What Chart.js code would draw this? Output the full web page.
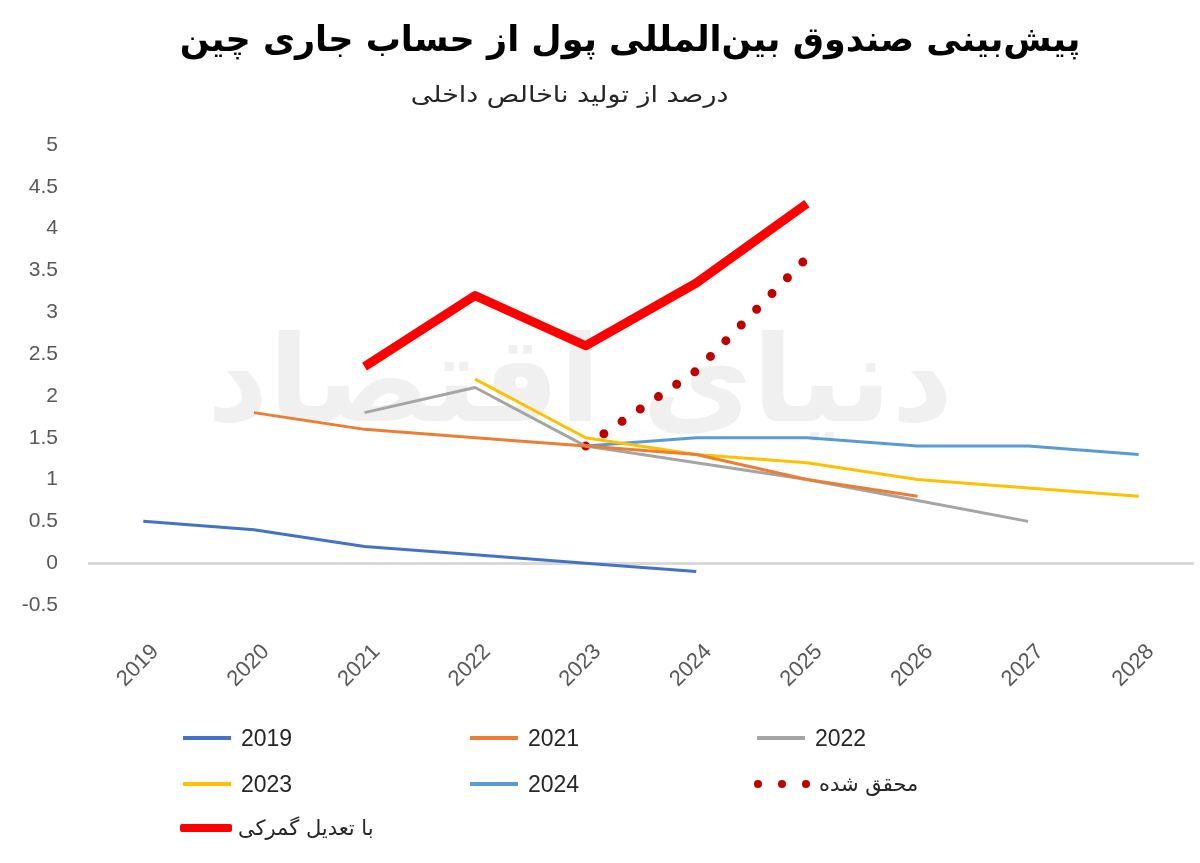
<!DOCTYPE html>
<html lang="fa">
<head>
<meta charset="utf-8">
<script src="https://cdn.jsdelivr.net/npm/chart.js@4.4.1/dist/chart.umd.min.js"></script>
<style>
  html, body { margin: 0; padding: 0; background: #fff; }
  #wrap { position: relative; width: 1200px; height: 863px; overflow: hidden; }
  #chart { position: absolute; left: 0; top: 0; }
  .title { position: absolute; top: 19px; left: 0; width: 1260px; text-align: center; direction: rtl;
    font: bold 35px "DejaVu Sans", sans-serif; color: #000; }
  .subtitle { position: absolute; top: 81px; right: 472px; direction: rtl;
    font: 23px "DejaVu Sans", sans-serif; color: #262626; transform: scaleX(1.17); transform-origin: right center; }
  .legend { position: absolute; left: 0; top: 0; width: 1200px; height: 863px; pointer-events: none; }
  .item { position: absolute; height: 30px; display: flex; align-items: center; }
  .swatch { width: 48px; margin-right: 10px; }
  .dots { display: flex; width: 56px; margin-right: 9px; justify-content: space-between; }
  .dots i { width: 8px; height: 8px; border-radius: 50%; }
  .label { font: 23px "Liberation Sans Narrow", "Liberation Sans", sans-serif; color: #262626; white-space: nowrap; }
  .label.fa { font: 21px "DejaVu Sans", sans-serif; direction: rtl; }
</style>
</head>
<body>
<div id="wrap">
  <canvas id="chart" width="1200" height="863"></canvas>
  <div class="title">پیش‌بینی صندوق بین‌المللی پول از حساب جاری چین</div>
  <div class="subtitle">درصد از تولید ناخالص داخلی</div>
  <div class="legend" id="legend"></div>
</div>
<script>
/* ---- data ---- */
const years = ['2019', '2020', '2021', '2022', '2023', '2024', '2025', '2026', '2027', '2028'];
const yTicks = [-0.5, 0, 0.5, 1, 1.5, 2, 2.5, 3, 3.5, 4, 4.5, 5];

const f2019 = [0.5, 0.4, 0.2, 0.1, 0.0, -0.1, null, null, null, null];
const f2021 = [null, 1.8, 1.6, 1.5, 1.4, 1.3, 1.0, 0.8, null, null];
const f2022 = [null, null, 1.8, 2.1, 1.4, 1.2, 1.0, 0.75, 0.5, null];
const f2023 = [null, null, null, 2.2, 1.5, 1.3, 1.2, 1.0, 0.9, 0.8];
const f2024 = [null, null, null, null, 1.4, 1.5, 1.5, 1.4, 1.4, 1.3];
const realized = [null, null, null, null, 1.4, 2.3, 3.65, null, null, null];
const withTariff = [null, null, 2.35, 3.2, 2.6, 3.35, 4.3, null, null, null];

const seriesNames = ['2019', '2021', '2022', '2023', '2024', 'محقق شده', 'با تعدیل گمرکی'];

/* ---- chart ---- */
const tickFont = { family: '"Liberation Sans Narrow", "Liberation Sans", sans-serif', size: 22 };

function lineSet(label, data, color, width, extra){
  return Object.assign({
    label, data, borderColor: color, backgroundColor: color,
    borderWidth: width, pointRadius: 0, tension: 0, spanGaps: false,
    borderJoinStyle: 'round', borderCapStyle: 'butt'
  }, extra || {});
}

const datasets = [
  lineSet(seriesNames[0], f2019, '#4472C4', 3),
  lineSet(seriesNames[1], f2021, '#ED7D31', 3),
  lineSet(seriesNames[2], f2022, '#A5A5A5', 3),
  lineSet(seriesNames[3], f2023, '#FFC000', 3),
  lineSet(seriesNames[4], f2024, '#5B9BD5', 3),
  lineSet(seriesNames[5], realized, '#C00000', 9, { borderDash: [0, 22], borderCapStyle: 'round' }),
  lineSet(seriesNames[6], withTariff, '#FF0000', 9)
];

// faint watermark behind the lines
const watermark = {
  id: 'watermark',
  beforeDatasetsDraw(chart){
    const c = chart.ctx;
    c.save();
    c.fillStyle = '#f0f0f0';
    c.font = 'bold 120px "DejaVu Sans", sans-serif';
    c.textAlign = 'center';
    c.textBaseline = 'middle';
    c.direction = 'rtl';
    c.fillText('دنیای اقتصاد', 580, 390);
    c.restore();
  }
};

const chart = new Chart(document.getElementById('chart'), {
  type: 'line',
  data: { labels: years, datasets },
  plugins: [watermark],
  options: {
    responsive: false,
    animation: false,
    layout: { padding: { top: 145, bottom: 158, left: 0, right: 6 } },
    plugins: { legend: { display: false }, tooltip: { enabled: false } },
    scales: {
      x: {
        offset: true,
        grid: { display: false },
        border: { display: false },
        ticks: { color: '#595959', font: tickFont, minRotation: 45, maxRotation: 45, padding: 26, labelOffset: 12 },
        afterFit(scale){ scale.height = 100; }
      },
      y: {
        min: -0.5, max: 5,
        afterBuildTicks(scale){ scale.ticks = yTicks.map(v => ({ value: v })); },
        grid: {
          drawTicks: false,
          color: ctx => ctx.tick && ctx.tick.value === 0 ? '#d9d9d9' : 'rgba(0,0,0,0)',
          lineWidth: 3
        },
        border: { display: false },
        ticks: { color: '#595959', font: { ...tickFont, size: 21 }, padding: 30, callback: v => String(v) },
        afterFit(scale){ scale.width = 88; }
      }
    }
  }
});

/* ---- legend (3 columns, built from the datasets) ---- */
const slots = [
  { x: 183, y: 723 }, { x: 470, y: 723 }, { x: 757, y: 723 },
  { x: 183, y: 769 }, { x: 470, y: 769 }, { x: 754, y: 769 },
  { x: 180, y: 813 }
];
const legendEl = document.getElementById('legend');
chart.data.datasets.forEach((ds, i) => {
  const item = document.createElement('div');
  item.className = 'item';
  item.style.left = slots[i].x + 'px';
  item.style.top = slots[i].y + 'px';
  let sw;
  if (ds.borderDash) {
    sw = document.createElement('div');
    sw.className = 'dots';
    for (let k = 0; k < 3; k++) {
      const d = document.createElement('i');
      d.style.background = ds.borderColor;
      sw.appendChild(d);
    }
  } else {
    sw = document.createElement('div');
    sw.className = 'swatch';
    sw.style.height = ds.borderWidth > 5 ? '8px' : '4px';
    sw.style.background = ds.borderColor;
    if (ds.borderWidth > 5) { sw.style.width = '52px'; sw.style.borderRadius = '2px'; sw.style.marginRight = '6px'; }
  }
  const lb = document.createElement('span');
  lb.className = /[\u0600-\u06FF]/.test(ds.label) ? 'label fa' : 'label';
  lb.textContent = ds.label;
  item.appendChild(sw);
  item.appendChild(lb);
  legendEl.appendChild(item);
});
</script>
</body>
</html>
